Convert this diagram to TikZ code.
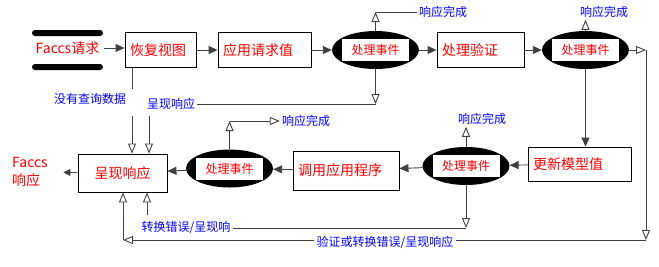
\documentclass[tikz,border=0pt]{standalone}
\usepackage{fontspec}
\setmainfont{Noto Sans CJK SC}
\usetikzlibrary{arrows.meta,shapes.geometric}

\begin{document}
\begin{tikzpicture}[x=1pt, y=-1pt,
		box/.style={draw=black, line width=0.9pt, text=red, minimum height=35pt, inner xsep=5pt, text width=#1, align=left, font=\fontsize{14}{14}\selectfont},
		evt/.style={ellipse, fill=black, minimum width=87pt, minimum height=38pt, inner sep=0pt},
		evtxt/.style={fill=white, text=red, minimum width=67pt, minimum height=22pt, inner sep=0pt, font=\fontsize{12}{12}\selectfont},
		lbl/.style={text=blue, inner sep=2pt, font=\fontsize{12}{12}\selectfont},
		ln/.style={line width=0.9pt, black!75},
		fa/.style={ln, -{Triangle[length=9pt,width=8pt]}},
		oa/.style={ln, -{Triangle[open,length=10pt,width=8pt]}}]
		\useasboundingbox (0,0) rectangle (659,266);
		\fill[rounded corners=3pt] (32,30) rectangle (103,36);
		\fill[rounded corners=3pt] (32,64) rectangle (103,70);
		\node[text=red, font=\fontsize{14}{14}\selectfont, minimum width=73pt] (req) at (67.5,48) {Faccs请求};
		\node[box=61pt] (view) at (160.5,50) {恢复视图};
		\node[box=83pt] (apply) at (264.5,50) {应用请求值};
		\node[evt] (evA) at (375.5,50) {};
		\node[evtxt] at (evA) {处理事件};
		\node[box=77pt] (valid) at (480.5,50) {处理验证};
		\node[evt] (evB) at (585.5,50) {};
		\node[evtxt] at (evB) {处理事件};
		\node[box=93pt, minimum height=34pt] (upd) at (579.5,164) {更新模型值};
		\node[evt] (evC) at (466,166) {};
		\node[evtxt] at (evC) {处理事件};
		\node[box=96pt, minimum height=39pt] (call) at (346,170.5) {调用应用程序};
		\node[evt] (evD) at (229.5,168.5) {};
		\node[evtxt] at (evD) {处理事件};
		\node[box=79pt, minimum height=38pt, align=center] (show) at (122.5,173) {呈现响应};
		\node[text=red, align=left, font=\fontsize{14}{18}\selectfont] (out) at (30,172) {Faccs\\响应};
		\node[lbl] (doneA) at (443,12) {响应完成};
		\node[lbl] (doneB) at (604,12) {响应完成};
		\node[lbl] (doneC) at (482,119) {响应完成};
		\node[lbl] (doneD) at (306,121) {响应完成};
		\node[lbl] (lnone) at (90,99) {没有查询数据};
		\node[lbl] (lshow) at (171,104) {呈现响应};
		\node[lbl] (lerr) at (186,228) {转换错误/呈现响};
		\node[lbl] (lval) at (385,242) {验证或转换错误/呈现响应};
		\draw[fa] (req) -- (req -| view.west);
		\draw[fa] (view) -- (apply);
		\draw[fa] (apply) -- (evA);
		\draw[fa] (evA) -- (valid);
		\draw[fa] (valid) -- (evB);
		\draw[fa] (evB.south) -- (evB.south |- upd.north);
		\draw[fa] (upd) -- (evC);
		\draw[fa] (evC) -- (call);
		\draw[fa] (call) -- (evD);
		\draw[fa] (evD) -- (show);
		\draw[ln, -{Triangle[length=7pt,width=7pt]}, shorten >=12pt] (show) -- (out);
		\coordinate (tA) at (375.5,12);
		\draw[oa] (evA) -- (tA);
		\draw[ln] (tA) -- (doneA);
		\coordinate (bA) at (375.5,104);
		\draw[oa] (evA) -- (bA);
		\draw[ln] (bA) -- (lshow);
		\coordinate (sA) at (149,116);
		\draw[oa] (sA) -- (sA |- show.north);
		\coordinate (vA) at (132,89);
		\draw[ln] (vA |- view.south) -- (vA);
		\coordinate (vB) at (132,116);
		\draw[oa] (vB) -- (vB |- show.north);
		\coordinate (tD) at (229.5,121);
		\draw[oa] (evD) -- (tD);
		\draw[oa] (tD) -- (doneD);
		\draw[oa] (evC) -- (evC |- doneC.south);
		\draw[oa] (evB) -- (evB |- doneB.south);
		\coordinate (bC) at (466,228);
		\draw[oa] (evC) -- (bC);
		\draw[ln] (bC) -- (lerr);
		\coordinate (sB) at (147,215);
		\draw[oa] (sB) -- (sB |- show.south);
		\coordinate (rB) at (646,50);
		\coordinate (rC) at (646,240);
		\draw[oa] (evB) -- (rB);
		\draw[oa] (rB) -- (rC);
		\draw[ln] (rC) -- (rC -| lval.east);
		\coordinate (lA) at (123,240);
		\draw[oa] (lval.west |- lA) -- (lA);
		\draw[oa] (lA) -- (lA |- show.south);
	\end{tikzpicture}
\end{document}
